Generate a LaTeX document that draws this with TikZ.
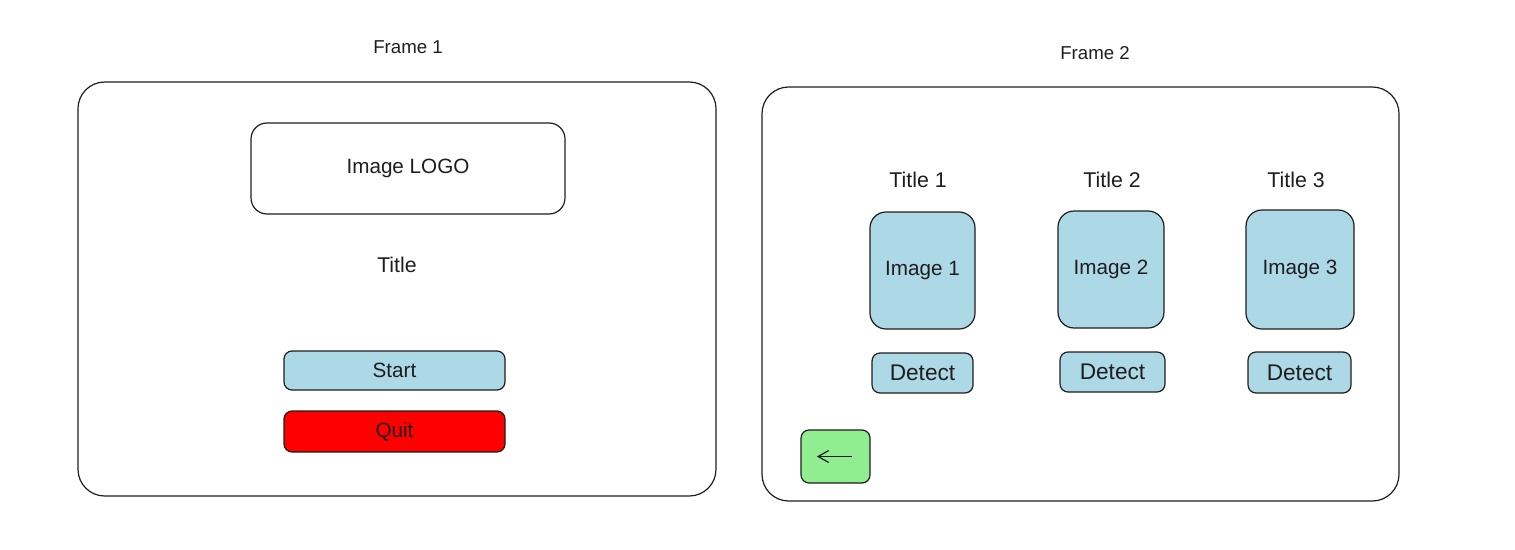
\documentclass[tikz,border=0pt]{standalone}
\usepackage{fontspec}
\setmainfont{Liberation Sans}
\usetikzlibrary{arrows.meta}
\definecolor{lblue}{RGB}{173,216,230}
\definecolor{lgreen}{RGB}{144,238,144}
\definecolor{qred}{RGB}{255,0,0}
\definecolor{ink}{RGB}{30,30,30}
\begin{document}
\begin{tikzpicture}[x=0.75pt,y=-0.75pt,
  box/.style={draw=ink,line width=0.9pt,rounded corners=#1,inner sep=0pt},
  box/.default=12pt,
  flbl/.style={font=\fontsize{14}{16}\selectfont,text=ink,inner sep=1pt},
  lbl/.style={font=\fontsize{16}{18}\selectfont,text=ink,inner sep=1pt},
  blbl/.style={font=\fontsize{15.5}{18}\selectfont,text=ink},
  dlbl/.style={font=\fontsize{17}{19}\selectfont,text=ink}]
\useasboundingbox (0,0) rectangle (1515,549);
% Frame 1
\node[box=20pt,minimum width=638*0.75pt,minimum height=414*0.75pt] (f1) at (397,289) {};
\node[flbl] (f1t) at (408,47) {Frame 1};
\node[box,minimum width=314*0.75pt,minimum height=91*0.75pt,blbl] (logo) at (408,168.5) {Image LOGO};
\node[lbl] (title) at (397,265) {Title};
\node[box=6pt,fill=lblue,minimum width=221*0.75pt,minimum height=39*0.75pt,blbl] (start) at (394.5,370.5) {Start};
\node[box=6pt,fill=qred,minimum width=221*0.75pt,minimum height=41*0.75pt,blbl] (quit) at (394.5,431.5) {Quit};
% Frame 2
\node[box=20pt,minimum width=637*0.75pt,minimum height=414*0.75pt] (f2) at (1080.5,294) {};
\node[flbl] (f2t) at (1095,53) {Frame 2};
\node[lbl] (t1) at (918,180) {Title 1};
\node[lbl] (t2) at (1112,180) {Title 2};
\node[lbl] (t3) at (1296,180) {Title 3};
\node[box,fill=lblue,minimum width=105*0.75pt,minimum height=117*0.75pt,blbl] (i1) at (922.5,270.5) {Image 1};
\node[box,fill=lblue,minimum width=106*0.75pt,minimum height=117*0.75pt,blbl] (i2) at (1111,269.5) {Image 2};
\node[box,fill=lblue,minimum width=108*0.75pt,minimum height=119*0.75pt,blbl] (i3) at (1300,269.5) {Image 3};
\node[box=6pt,fill=lblue,minimum width=101*0.75pt,minimum height=40*0.75pt,dlbl] (d1) at (922.5,373) {Detect};
\node[box=6pt,fill=lblue,minimum width=105*0.75pt,minimum height=40*0.75pt,dlbl] (d2) at (1112.5,372) {Detect};
\node[box=6pt,fill=lblue,minimum width=103*0.75pt,minimum height=41*0.75pt,dlbl] (d3) at (1299.5,372.5) {Detect};
\node[box=6pt,fill=lgreen,minimum width=69*0.75pt,minimum height=53*0.75pt] (back) at (835.5,456.5) {};
\draw[ink,line width=0.9pt,-{Straight Barb[length=8pt,width=9pt]}] ([xshift=12pt]back.center) -- ([xshift=-14pt]back.center);
\end{tikzpicture}
\end{document}
